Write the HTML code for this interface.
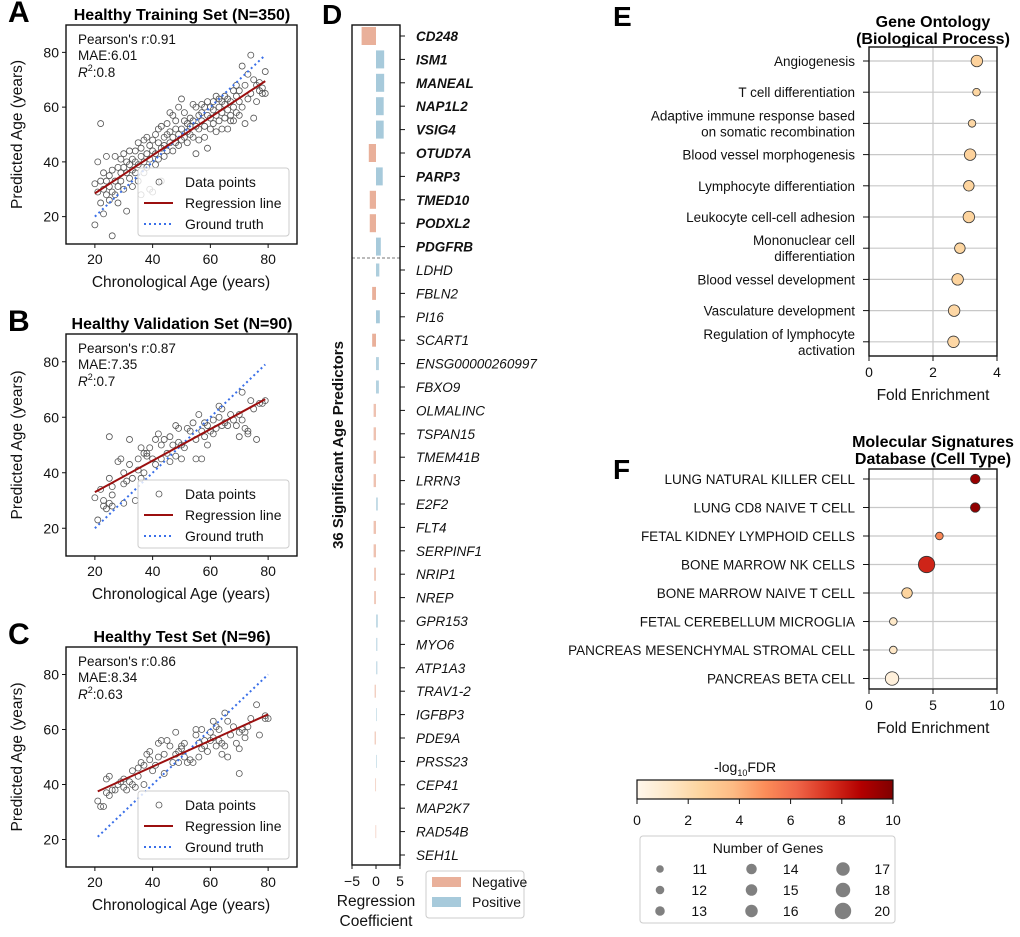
<!DOCTYPE html>
<html><head><meta charset="utf-8">
<style>
html,body{margin:0;padding:0;background:#fff;}
svg{display:block;font-family:"Liberation Sans",Arial,sans-serif;}
</style></head>
<body>
<svg id="fig" width="1020" height="937" viewBox="0 0 1020 937" xmlns="http://www.w3.org/2000/svg"></svg>
<script>
// ---------- DATA ----------
const trainPoints = [[20,17],[20,32],[21,40],[21,29],[22,54],[22,25],[22,33],[23,21],[23,30],[23,36],[24,28],[24,33],[24,42],[25,26],[25,35],[25,31],[26,13],[26,37],[26,29],[27,42],[27,33],[27,28],[28,31],[28,38],[28,25],[29,36],[29,41],[29,33],[30,30],[30,38],[30,43],[31,22],[31,36],[31,40],[32,34],[32,44],[32,39],[33,37],[33,31],[33,41],[34,44],[34,36],[34,40],[35,39],[35,47],[35,33],[36,28],[36,42],[36,45],[37,48],[37,40],[37,36],[38,43],[38,49],[38,38],[39,41],[39,46],[39,30],[40,44],[40,29],[40,48],[41,43],[41,50],[41,39],[42,47],[42,52],[42,41],[43,33],[43,45],[43,53],[44,49],[44,42],[44,46],[45,50],[45,54],[45,44],[46,58],[46,47],[46,51],[47,57],[47,49],[47,44],[48,52],[48,47],[48,55],[49,60],[49,50],[49,46],[50,63],[50,52],[50,48],[51,55],[51,58],[51,49],[52,54],[52,47],[52,51],[53,56],[53,50],[53,53],[54,61],[54,55],[54,49],[55,60],[55,43],[55,53],[56,57],[56,52],[56,48],[57,58],[57,55],[57,61],[58,53],[58,60],[58,49],[59,45],[59,57],[59,62],[60,56],[60,52],[60,60],[61,59],[61,54],[61,62],[62,64],[62,57],[62,51],[63,60],[63,55],[63,63],[64,58],[64,52],[64,62],[65,56],[65,61],[65,64],[66,59],[66,52],[66,63],[67,62],[67,57],[67,55],[68,66],[68,60],[68,55],[69,64],[69,58],[69,68],[70,62],[70,57],[70,66],[71,75],[71,60],[72,54],[72,68],[73,72],[73,63],[74,79],[74,65],[75,70],[75,56],[76,68],[76,62],[77,69],[77,66],[78,65],[78,67],[79,73],[79,65]];
const valPoints = [[20,31],[21,23],[22,34],[23,28],[23,30],[24,27],[25,53],[25,38],[25,29],[26,32],[26,35],[26,28],[28,44],[29,45],[30,36],[30,40],[30,29],[31,37],[32,43],[32,52],[33,38],[34,30],[35,41],[35,45],[36,38],[36,49],[37,47],[37,40],[38,47],[38,46],[39,49],[40,45],[41,52],[41,43],[42,54],[43,50],[43,45],[44,52],[45,47],[46,53],[46,44],[47,50],[48,57],[48,46],[49,56],[49,51],[50,45],[50,50],[51,49],[52,56],[53,55],[54,58],[55,52],[55,45],[56,61],[57,45],[57,55],[58,58],[58,53],[59,50],[59,57],[60,55],[61,54],[61,59],[62,56],[63,64],[63,60],[64,63],[64,57],[65,58],[66,57],[67,61],[68,59],[69,57],[70,53],[70,61],[71,69],[71,59],[72,56],[73,54],[73,55],[74,66],[75,63],[76,52],[77,65],[78,65],[79,66]];
const testPoints = [[21,34],[22,32],[23,32],[24,42],[24,37],[25,43],[25,36],[26,38],[27,38],[28,40],[29,41],[30,39],[30,42],[31,38],[32,41],[33,45],[33,40],[34,39],[35,46],[35,43],[36,48],[37,40],[37,47],[38,51],[39,49],[39,52],[40,45],[41,47],[42,55],[42,50],[43,56],[44,44],[44,51],[45,56],[46,54],[47,48],[48,59],[48,51],[49,48],[49,52],[50,54],[50,53],[51,55],[51,50],[52,48],[53,49],[54,48],[55,60],[55,58],[56,50],[56,55],[57,60],[57,53],[58,54],[58,56],[59,52],[60,59],[60,56],[61,63],[61,57],[62,61],[62,54],[63,60],[63,56],[64,55],[64,51],[65,66],[65,54],[66,63],[66,50],[67,58],[68,61],[69,55],[70,44],[70,53],[70,59],[71,60],[72,57],[72,59],[73,61],[74,64],[76,69],[77,58],[79,64],[80,64],[79,65]];
const regLines = [[20,28.5,79,69.5],[20,33,79,66.5],[21,37.5,80,65.5]];
const truthLines = [[20,20,79,79],[20,20,79,79],[21,21,80,80]];
const stats = [["0.91","6.01","0.8"],["0.87","7.35","0.7"],["0.86","8.34","0.63"]];
const scatterTitles = ["Healthy Training Set (N=350)","Healthy Validation Set (N=90)","Healthy Test Set (N=96)"];
const ageTicks = [20,40,60,80];

const geneNames = ["CD248","ISM1","MANEAL","NAP1L2","VSIG4","OTUD7A","PARP3","TMED10","PODXL2","PDGFRB","LDHD","FBLN2","PI16","SCART1","ENSG00000260997","FBXO9","OLMALINC","TSPAN15","TMEM41B","LRRN3","E2F2","FLT4","SERPINF1","NRIP1","NREP","GPR153","MYO6","ATP1A3","TRAV1-2","IGFBP3","PDE9A","PRSS23","CEP41","MAP2K7","RAD54B","SEH1L"];
const geneCoefs = [-3.0,1.7,1.7,1.6,1.6,-1.5,1.4,-1.3,-1.3,1.0,0.7,-0.8,0.8,-0.8,0.6,0.6,-0.5,-0.5,-0.5,-0.5,0.4,-0.5,-0.5,-0.4,-0.4,0.4,0.3,0.3,-0.3,0.2,-0.3,0.2,-0.2,0.0,-0.15,0.0];
const coefTicks = [-5,0,5];

const goTerms = [["Angiogenesis"],["T cell differentiation"],["Adaptive immune response based","on somatic recombination"],["Blood vessel morphogenesis"],["Lymphocyte differentiation"],["Leukocyte cell-cell adhesion"],["Mononuclear cell","differentiation"],["Blood vessel development"],["Vasculature development"],["Regulation of lymphocyte","activation"]];
const goFold = [3.37,3.36,3.22,3.16,3.12,3.12,2.84,2.77,2.66,2.64];
const goFdr = [2.6,2.4,2.3,2.6,2.5,2.5,2.4,2.5,2.3,2.3];
const goGenes = [15,11,11,15,14,15,14,15,15,15];
const goTicks = [0,2,4];

const cellTerms = ["LUNG NATURAL KILLER CELL","LUNG CD8 NAIVE T CELL","FETAL KIDNEY LYMPHOID CELLS","BONE MARROW NK CELLS","BONE MARROW NAIVE T CELL","FETAL CEREBELLUM MICROGLIA","PANCREAS MESENCHYMAL STROMAL CELL","PANCREAS BETA CELL"];
const cellFold = [8.3,8.3,5.5,4.5,2.97,1.9,1.9,1.8];
const cellFdr = [9.4,9.6,5.2,7.8,2.5,1.2,1.3,0.6];
const cellGenes = [13,13,11,20,14,11,11,17];
const cellTicks = [0,5,10];

const cbarTicks = [0,2,4,6,8,10];
const sizeLegend = [11,12,13,14,15,16,17,18,20];

// ---------- HELPERS ----------
const NS="http://www.w3.org/2000/svg";
const svg=document.getElementById('fig');
function mk(tag,attrs,parent){const e=document.createElementNS(NS,tag);for(const k in attrs)e.setAttribute(k,attrs[k]);(parent||svg).appendChild(e);return e;}
function txt(s,x,y,attrs,parent){const e=mk('text',Object.assign({x:x,y:y,fill:'#111','font-size':14},attrs||{}),parent);e.textContent=s;return e;}
const orrd=["#fff7ec","#fee8c8","#fdd49e","#fdbb84","#fc8d59","#ef6548","#d7301f","#b30000","#7f0000"];
function hex2(h){return [1,3,5].map(i=>parseInt(h.substr(i,2),16));}
function cmap(v){let t=Math.max(0,Math.min(1,v/10))*8;const i=Math.min(7,Math.floor(t));const f=t-i;const a=hex2(orrd[i]),b=hex2(orrd[i+1]);return 'rgb('+a.map((c,k)=>Math.round(c+(b[k]-c)*f)).join(',')+')';}
function rad(n){return 3.8+(n-11)*4.4/9;}

// ---------- SCATTER PANELS ----------
const panelY=[[25,244],[334,556],[647,867]];
const allPts=[trainPoints,valPoints,testPoints];
const letters=["A","B","C"];
for(let p=0;p<3;p++){
  const g=mk('g',{});
  
  
  const L=66,R=297,T=panelY[p][0],B=panelY[p][1];
  const X=v=>L+(v-10)*(R-L)/80, Y=v=>T+(90-v)*(B-T)/80;
  const lt=txt(letters[p],8,T-3,{'font-size':30,'font-weight':'bold',fill:'#000'},g);
  
  
  const tt=txt(scatterTitles[p],182,T-5,{'font-size':16,'font-weight':'bold','text-anchor':'middle',fill:'#000'},g);
  
  
  const pts=allPts[p];
  for(const [a,v] of pts){
    const c=mk('circle',{cx:X(a),cy:Y(v),r:3,fill:'none',stroke:'#555','stroke-width':0.8},g);
    
    
  }
  const tl=truthLines[p];
  const gl=mk('line',{x1:X(tl[0]),y1:Y(tl[1]),x2:X(tl[2]),y2:Y(tl[3]),stroke:'#3a6fe8','stroke-width':2,'stroke-dasharray':'2,3'},g);
  
  
  const rl=regLines[p];
  const rg=mk('line',{x1:X(rl[0]),y1:Y(rl[1]),x2:X(rl[2]),y2:Y(rl[3]),stroke:'#9b0f0f','stroke-width':2},g);
  
  
  const bx=mk('rect',{x:L,y:T,width:R-L,height:B-T,fill:'none',stroke:'#111','stroke-width':1.4},g);
  
  
  for(const t of ageTicks){
    mk('line',{x1:X(t),y1:B,x2:X(t),y2:B+4,stroke:'#111'},g);
    txt(String(t),X(t),B+20,{'text-anchor':'middle','font-size':14},g);
    mk('line',{x1:L-4,y1:Y(t),x2:L,y2:Y(t),stroke:'#111'},g);
    txt(String(t),L-7,Y(t)+5,{'text-anchor':'end','font-size':14},g);
  }
  const xl=txt('Chronological Age (years)',181,B+43,{'text-anchor':'middle','font-size':15.5},g);
  
  
  const yc=(T+B)/2;
  const yl=txt('Predicted Age (years)',0,0,{'text-anchor':'middle','font-size':15.5,transform:'translate(22,'+yc+') rotate(-90)'},g);
  
  
  const st=stats[p];
  txt("Pearson's r:"+st[0],78,T+19,{'font-size':13.5},g);
  txt("MAE:"+st[1],78,T+35,{'font-size':13.5},g);
  const r2=txt("",78,T+52,{'font-size':13.5},g);
  r2.innerHTML='<tspan font-style="italic">R</tspan><tspan font-size="9" dy="-6">2</tspan><tspan dy="6">:'+st[2]+'</tspan>';
  const lg=mk('g',{},g);
  
  
  const ly=B-76;
  mk('rect',{x:138,y:ly,width:151,height:68,rx:3,fill:'#fff','fill-opacity':0.8,stroke:'#ccc'},lg);
  mk('circle',{cx:159,cy:ly+14,r:3,fill:'none',stroke:'#555','stroke-width':0.8},lg);
  txt('Data points',185,ly+19,{'font-size':14},lg);
  mk('line',{x1:144,y1:ly+35,x2:173,y2:ly+35,stroke:'#9b0f0f','stroke-width':2},lg);
  txt('Regression line',185,ly+40,{'font-size':14},lg);
  mk('line',{x1:144,y1:ly+56,x2:173,y2:ly+56,stroke:'#3a6fe8','stroke-width':2,'stroke-dasharray':'2,3'},lg);
  txt('Ground truth',185,ly+61,{'font-size':14},lg);
}

// ---------- PANEL D ----------
(function(){
  const g=mk('g',{});
  
  
  const L=352,R=400,T=25,B=865;
  const X=v=>L+(v+5)*(R-L)/10;
  const rowY=i=>36+i*23.4;
  const ld=txt('D',322,24,{'font-size':28,'font-weight':'bold',fill:'#000'},g);
  
  
  geneNames.forEach((n,i)=>{
    const v=geneCoefs[i];
    const y=rowY(i);
    const h=i<10?18:13;
    const op=Math.min(1,0.35+Math.abs(v)/1.2);
    const x0=Math.min(X(0),X(v)), bw=Math.max(1,Math.abs(X(v)-X(0)));
    if(v!==0){
      const r=mk('rect',{x:x0,y:y-h/2,width:bw,height:h,fill:v<0?'#e9b09a':'#a7cadb','fill-opacity':op},g);
      
      
    }
    mk('line',{x1:R,y1:y,x2:R+5,y2:y,stroke:'#111'},g);
    const t=txt(n,416,y+5,{'font-size':13.5,'font-style':'italic','font-weight':i<10?'bold':'normal'},g);
    
    
  });
  mk('line',{x1:L,y1:258,x2:R,y2:258,stroke:'#777','stroke-dasharray':'3,2'},g);
  mk('rect',{x:L,y:T,width:R-L,height:B-T,fill:'none',stroke:'#111','stroke-width':1.4},g);
  for(const t of coefTicks){
    mk('line',{x1:X(t),y1:B,x2:X(t),y2:B+4,stroke:'#111'},g);
    txt(t<0?'\u2212'+(-t):String(t),X(t),B+21,{'text-anchor':'middle','font-size':14},g);
  }
  const xl=txt('Regression',376,906,{'text-anchor':'middle','font-size':15.5},g);
  
  
  txt('Coefficient',376,926,{'text-anchor':'middle','font-size':15.5},g);
  const yl=txt('36 Significant Age Predictors',0,0,{'text-anchor':'middle','font-size':15,'font-weight':'bold',transform:'translate(343,445) rotate(-90)'},g);
  
  
  const lg=mk('g',{},g);
  
  
  mk('rect',{x:426,y:871,width:98,height:47,rx:3,fill:'#fff',stroke:'#ccc'},lg);
  mk('rect',{x:432,y:877,width:29,height:10,fill:'#e9b09a'},lg);
  txt('Negative',472,887,{'font-size':14},lg);
  mk('rect',{x:432,y:897,width:29,height:10,fill:'#a7cadb'},lg);
  txt('Positive',472,907,{'font-size':14},lg);
})();

// ---------- PANELS E & F ----------
function dotPanel(opts){
  const g=mk('g',{});
  
  
  const L=869,R=997,T=opts.T,B=opts.B;
  const X=v=>L+(v-opts.ticks[0])*(R-L)/(opts.ticks[opts.ticks.length-1]-opts.ticks[0]);
  const lt=txt(opts.letter,613,opts.letterY,{'font-size':28,'font-weight':'bold',fill:'#000'},g);
  
  
  txt(opts.title[0],933,opts.titleY,{'text-anchor':'middle','font-size':16,'font-weight':'bold',fill:'#000'},g);
  txt(opts.title[1],933,opts.titleY+17,{'text-anchor':'middle','font-size':16,'font-weight':'bold',fill:'#000'},g);
  mk('line',{x1:X(opts.ticks[1]),y1:T,x2:X(opts.ticks[1]),y2:B,stroke:'#c8c8c8','stroke-width':1.2},g);
  opts.labels.forEach((lab,i)=>{
    const y=opts.y0+i*opts.dy;
    mk('line',{x1:L,y1:y,x2:R,y2:y,stroke:'#c8c8c8','stroke-width':1.2},g);
    mk('line',{x1:L-6,y1:y,x2:L,y2:y,stroke:'#111'},g);
    const lines=Array.isArray(lab)?lab:[lab];
    lines.forEach((s,k)=>{
      const t=txt(s,855,y+5+(k-(lines.length-1)/2)*16,{'text-anchor':'end','font-size':opts.fs},g);
      
      
    });
  });
  opts.labels.forEach((lab,i)=>{
    const y=opts.y0+i*opts.dy;
    const c=mk('circle',{cx:X(opts.fold[i]),cy:y,r:rad(opts.genes[i]),fill:cmap(opts.fdr[i]),stroke:'#333','stroke-width':0.8},g);
    
    
  });
  mk('rect',{x:L,y:T,width:R-L,height:B-T,fill:'none',stroke:'#111','stroke-width':1.4},g);
  for(const t of opts.ticks){
    mk('line',{x1:X(t),y1:B,x2:X(t),y2:B+5,stroke:'#111'},g);
    txt(String(t),X(t),B+21,{'text-anchor':'middle','font-size':14},g);
  }
  const xl=txt('Fold Enrichment',933,B+44,{'text-anchor':'middle','font-size':15.5},g);
  
  
}
dotPanel({name:'go-panel-e',letter:'E',letterY:26,title:['Gene Ontology','(Biological Process)'],titleY:27,T:47,B:356,y0:61,dy:31.2,labels:goTerms,fold:goFold,fdr:goFdr,genes:goGenes,ticks:goTicks,fs:13.5});
dotPanel({name:'msigdb-panel-f',letter:'F',letterY:479,title:['Molecular Signatures','Database (Cell Type)'],titleY:447,T:469,B:689,y0:479,dy:28.5,labels:cellTerms,fold:cellFold,fdr:cellFdr,genes:cellGenes,ticks:cellTicks,fs:13.5});

// ---------- COLORBAR & SIZE LEGEND ----------
(function(){
  const g=mk('g',{});
  
  
  const defs=mk('defs',{},g);
  const lg=mk('linearGradient',{id:'cb',x1:0,x2:1,y1:0,y2:0},defs);
  orrd.forEach((c,i)=>mk('stop',{offset:(i/8*100)+'%','stop-color':c},lg));
  const L=637,R=893;
  txt('-log',714,772,{'font-size':14},g).innerHTML='-log<tspan font-size="9" dy="4">10</tspan><tspan dy="-4">FDR</tspan>';
  mk('rect',{x:L,y:780,width:R-L,height:19,fill:'url(#cb)',stroke:'#111','stroke-width':1.2},g);
  for(const t of cbarTicks){
    const x=L+t*(R-L)/10;
    mk('line',{x1:x,y1:799,x2:x,y2:804,stroke:'#111'},g);
    txt(String(t),x,825,{'text-anchor':'middle','font-size':14},g);
  }
  const sg=mk('g',{});
  
  
  mk('rect',{x:640,y:836,width:255,height:87,rx:3,fill:'#fff',stroke:'#ccc'},sg);
  txt('Number of Genes',768,853,{'text-anchor':'middle','font-size':14},sg);
  sizeLegend.forEach((n,i)=>{
    const col=Math.floor(i/3), row=i%3;
    const cx=660+col*91.5, cy=869+row*21;
    mk('circle',{cx:cx,cy:cy,r:rad(n),fill:'#808080'},sg);
    txt(String(n),cx+47,cy+5,{'text-anchor':'end','font-size':14},sg);
  });
})();
</script>
</body></html>
